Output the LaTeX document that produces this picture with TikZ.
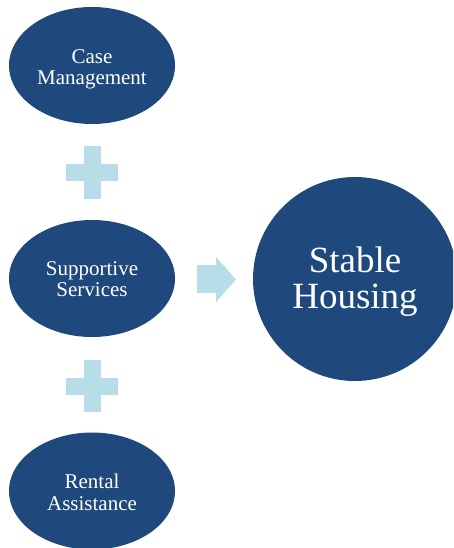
\documentclass[tikz,border=0pt]{standalone}
\usepackage{fontspec}
\setmainfont{Liberation Serif}
\usetikzlibrary{shapes.geometric}
\definecolor{navy}{RGB}{31,73,125}
\definecolor{paleaqua}{RGB}{183,222,232}
% two centred lines, drawn #1 lower than the box that holds them
\newcommand{\twolines}[3]{\raisebox{-#1}[\height][\depth]{\begin{tabular}{@{}c@{}}#2\\#3\end{tabular}}}
\begin{document}
\begin{tikzpicture}[x=1pt,y=-1pt,
  oval/.style={ellipse, fill=navy, text=white, inner sep=0pt,
    minimum width=166pt, minimum height=117pt,
    font=\fontsize{21}{21.5}\selectfont},
  goal/.style={circle, fill=navy, text=white, inner sep=0pt,
    minimum size=204pt,
    font=\fontsize{37}{36.5}\selectfont},
  sign/.style={fill=paleaqua}]
\useasboundingbox (0,0) rectangle (453,548);
\clip (0,0) rectangle (453,548);

% components
\node[oval] (case) at (92,65.5) {\twolines{4pt}{Case}{Management}};
\node[oval] (support) at (92,278.5) {\twolines{3pt}{Supportive}{Services}};
\node[oval] (rent) at (92,491) {\twolines{4pt}{Rental}{Assistance}};
% outcome
\node[goal] (stable) at (355,279) {\twolines{4pt}{Stable}{Housing}};

% plus signs between the components
\foreach \py in {172.5,386}{
  \fill[sign] (83.5,\py-26) rectangle (100.5,\py+26);
  \fill[sign] (66,\py-8.5) rectangle (118,\py+8.5);
}

% block arrow towards the outcome
\fill[sign] (197,265) -- (216,265) -- (216,257) -- (236,279.5)
  -- (216,302) -- (216,293) -- (197,293) -- cycle;
\end{tikzpicture}
\end{document}
